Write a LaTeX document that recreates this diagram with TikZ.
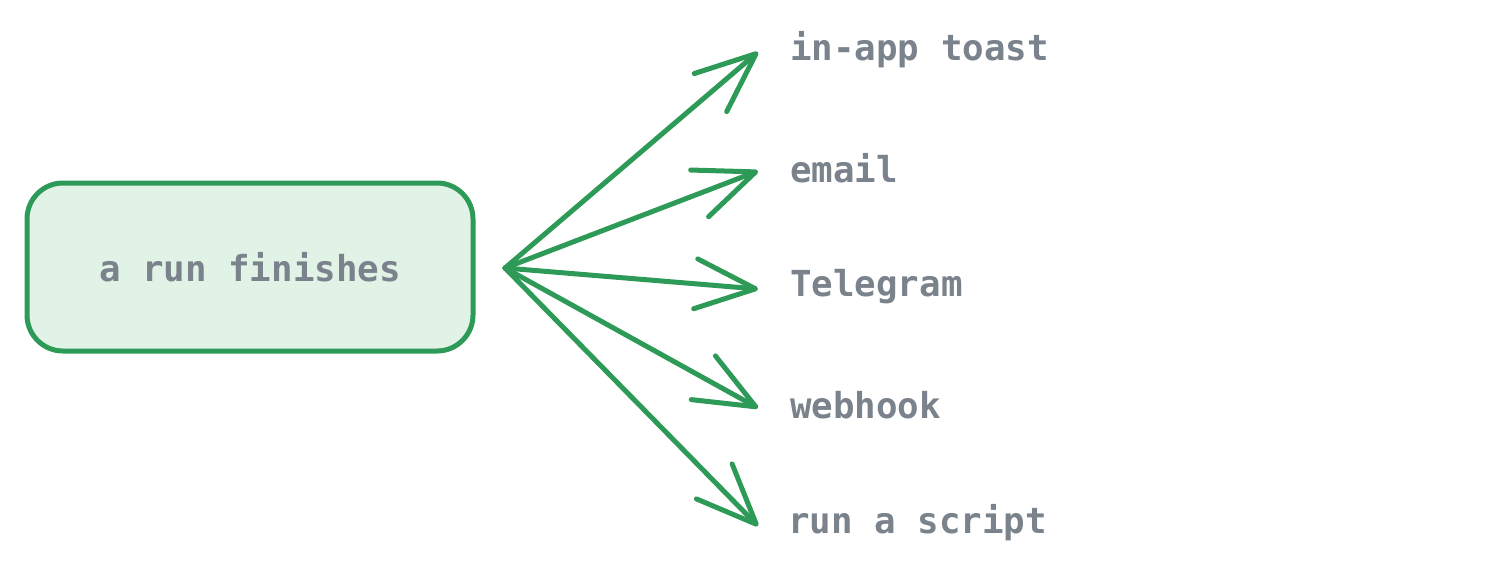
\documentclass[tikz,border=0pt]{standalone}
\usepackage{fontspec}
\setmonofont{DejaVu Sans Mono}
\usetikzlibrary{arrows.meta}
\definecolor{grn}{HTML}{2E9A57}
\definecolor{lgrn}{HTML}{E1F2E6}
\definecolor{txt}{HTML}{7A828C}
\begin{document}
\begin{tikzpicture}[x=1pt,y=-1pt,
  lbl/.style={anchor=west,inner sep=0pt,text=txt,font=\ttfamily\bfseries\fontsize{35.8}{38}\selectfont},
  arr/.style={draw=grn,line width=5pt,line cap=round,line join=round,-{Straight Barb[length=60pt,width=50pt,line cap=round,line join=round]}}]
\useasboundingbox (0,0) rectangle (1499,579);
\node[draw=grn,fill=lgrn,line width=5pt,rounded corners=36pt,minimum width=446pt,minimum height=168pt,text=txt,font=\ttfamily\bfseries\fontsize{35.8}{38}\selectfont] (src) at (250,267) {a run finishes};
\coordinate (o) at (505,268);
\coordinate (t1) at (758,52);
\coordinate (t2) at (758,171);
\coordinate (t3) at (758,289);
\coordinate (t4) at (758,408);
\coordinate (t5) at (758,526);
\node[lbl] (l1) at (790,50) {in-app toast};
\node[lbl] (l2) at (790,168) {email};
\node[lbl] (l3) at (790,287) {Telegram};
\node[lbl] (l4) at (790,405) {webhook};
\node[lbl] (l5) at (788,523) {run a script};
\foreach \i in {1,...,5} \draw[arr] (o) -- (t\i);
\end{tikzpicture}
\end{document}
